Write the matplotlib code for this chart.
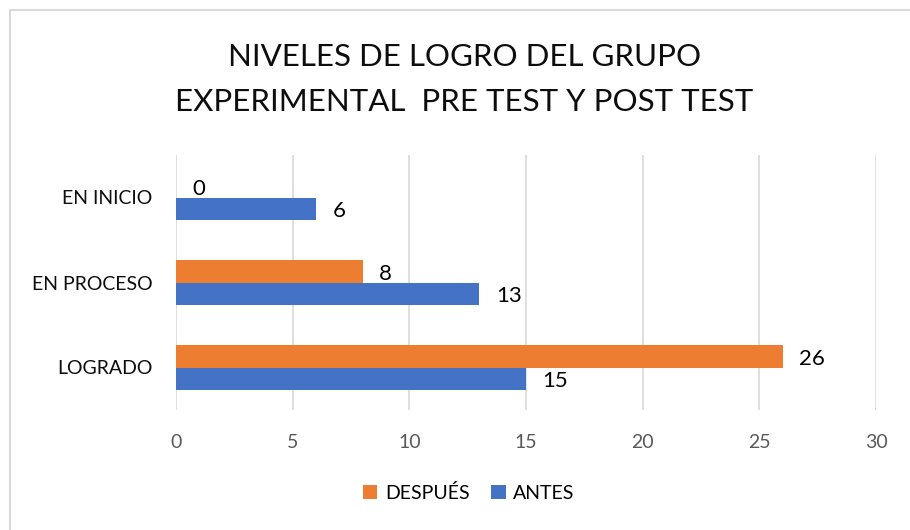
import numpy as np
import matplotlib.pyplot as plt
from matplotlib.patches import Rectangle

categorias = ['LOGRADO', 'EN PROCESO', 'EN INICIO']
antes = [15, 13, 6]
despues = [26, 8, 0]
titulo = 'NIVELES DE LOGRO DEL GRUPO\nEXPERIMENTAL  PRE TEST Y POST TEST'

azul = '#4472C4'
naranja = '#ED7D31'

plt.rcParams['font.family'] = ['Lato', 'DejaVu Sans']

fig = plt.figure(figsize=(9.1, 5.3), dpi=100)
ax = fig.add_axes([176 / 910, 120 / 530, 700 / 910, 255 / 530])

# marco gris de la figura
fig.patches.append(Rectangle((10 / 910, -0.1), 1.2, (520 / 530) + 0.1, transform=fig.transFigure,
                             fill=False, edgecolor='#d9d9d9', linewidth=1.5))

y = np.arange(len(categorias))
alto = 0.26
b_antes = ax.barh(y - alto / 2, antes, height=alto, color=azul, label='ANTES', zorder=3)
b_desp = ax.barh(y + alto / 2, despues, height=alto, color=naranja, label='DESPUÉS', zorder=3)

for barras in (b_antes, b_desp):
    for b in barras:
        ax.annotate(f'{int(b.get_width())}', (b.get_width(), b.get_y() + b.get_height() / 2),
                    xytext=(12, -2), textcoords='offset points', ha='left', va='center',
                    fontsize=16, color='black')

ax.set_xlim(0, 30)
ax.set_ylim(-0.5, 2.5)
ax.set_xticks(range(0, 31, 5))
ax.set_yticks(y)
ax.set_yticklabels(categorias, fontsize=14, color='#0d0d0d')
ax.tick_params(axis='x', labelsize=14, labelcolor='#595959', length=0, pad=17)
ax.tick_params(axis='y', length=0, pad=17)
ax.grid(axis='x', color='#d9d9d9', linewidth=1.2, zorder=0)
for s in ax.spines.values():
    s.set_visible(False)

fig.text(0.51, 0.85, titulo, ha='center', va='center', fontsize=22.5, color='#0d0d0d',
         linespacing=1.7)

handles = [b_desp, b_antes]
fig.legend(handles, ['DESPUÉS', 'ANTES'], loc='center', bbox_to_anchor=(0.515, 0.07),
           ncol=2, frameon=False, fontsize=14, handlelength=0.75, handleheight=0.75,
           columnspacing=1.1, handletextpad=0.4)

fig.savefig('out.png', dpi=100)
